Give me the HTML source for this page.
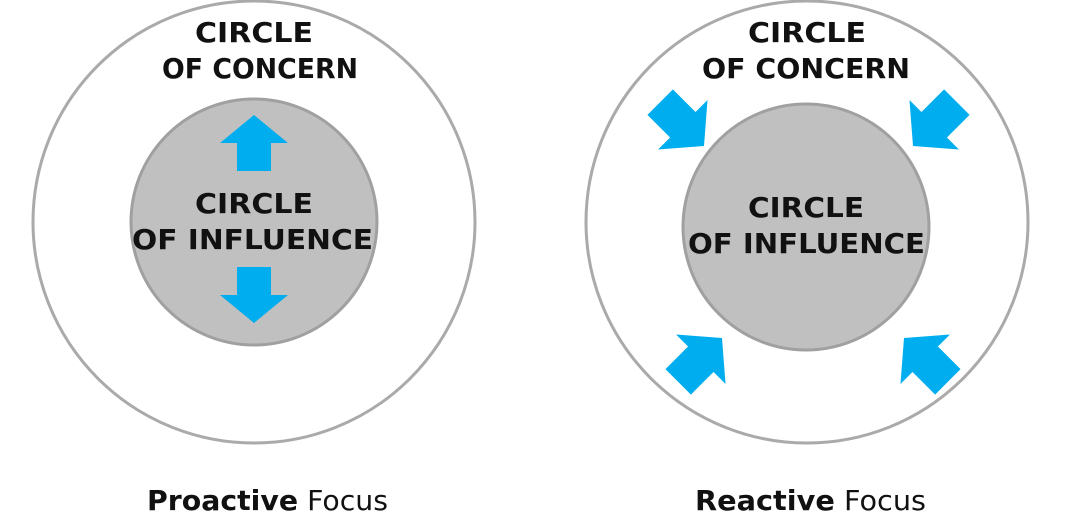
<!DOCTYPE html>
<html><head><style>html,body{margin:0;padding:0;background:#fff;}</style></head>
<body>
<svg width="1080" height="527" viewBox="0 0 1080 527" xmlns="http://www.w3.org/2000/svg" font-family="'DejaVu Sans','Liberation Sans',sans-serif">
<defs>
<polygon id="ar" points="0,0 -28,-34 -28,-17 -56,-17 -56,17 -28,17 -28,34" fill="#00aeef"/>
<polygon id="ad" points="0,0 -30,-35 -30,-18 -62,-18 -62,18 -30,18 -30,35" fill="#00aeef"/>
</defs>
<circle cx="254" cy="222" r="221" fill="#fff" stroke="#aaa" stroke-width="3"/>
<circle cx="254" cy="222" r="123" fill="#c0c0c0" stroke="#a0a0a0" stroke-width="3"/>
<circle cx="807" cy="222" r="221" fill="#fff" stroke="#aaa" stroke-width="3"/>
<circle cx="806" cy="227" r="123" fill="#c0c0c0" stroke="#a0a0a0" stroke-width="3"/>
<use href="#ar" transform="translate(254,115) rotate(-90)"/>
<use href="#ar" transform="translate(254,323) rotate(90)"/>
<use href="#ad" transform="translate(704,146) rotate(45)"/>
<use href="#ad" transform="translate(913,146) rotate(135)"/>
<use href="#ad" transform="translate(722,338) rotate(-45)"/>
<use href="#ad" transform="translate(904,338) rotate(-135)"/>
<g font-weight="bold" font-size="28" fill="#111" lengthAdjust="spacingAndGlyphs">
<text x="195" y="42" textLength="118" lengthAdjust="spacingAndGlyphs">CIRCLE</text>
<text x="162" y="78" textLength="196" lengthAdjust="spacingAndGlyphs">OF CONCERN</text>
<text x="195" y="213" textLength="118" lengthAdjust="spacingAndGlyphs">CIRCLE</text>
<text x="132" y="249" textLength="241" lengthAdjust="spacingAndGlyphs">OF INFLUENCE</text>
<text x="748" y="42" textLength="118" lengthAdjust="spacingAndGlyphs">CIRCLE</text>
<text x="702" y="78" textLength="208" lengthAdjust="spacingAndGlyphs">OF CONCERN</text>
<text x="748" y="217" textLength="116" lengthAdjust="spacingAndGlyphs">CIRCLE</text>
<text x="688" y="253" textLength="237" lengthAdjust="spacingAndGlyphs">OF INFLUENCE</text>
</g>
<g font-size="28" fill="#111">
<text x="147" y="510" textLength="241" lengthAdjust="spacingAndGlyphs"><tspan font-weight="bold">Proactive</tspan> Focus</text>
<text x="695" y="510" textLength="231" lengthAdjust="spacingAndGlyphs"><tspan font-weight="bold">Reactive</tspan> Focus</text>
</g>
</svg>
</body></html>
